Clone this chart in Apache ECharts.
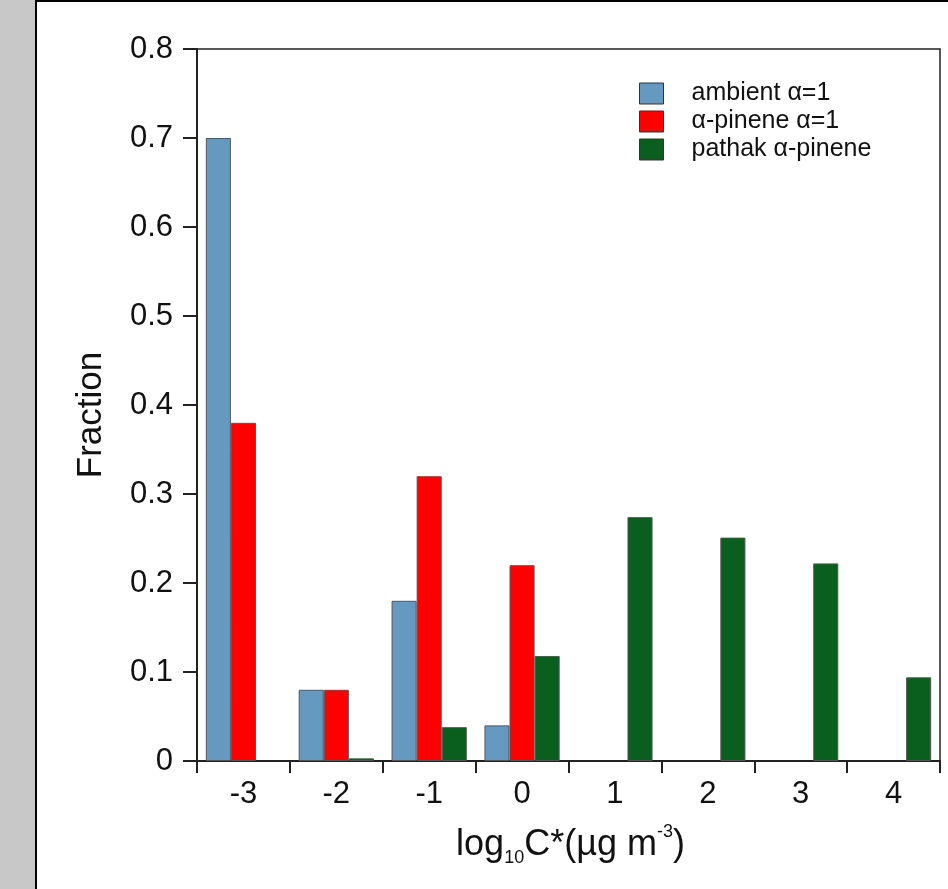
<!DOCTYPE html>
<html>
<head>
<meta charset="utf-8">
<script src="https://cdn.jsdelivr.net/npm/echarts@6/dist/echarts.min.js"></script>
<style>
html, body { margin: 0; padding: 0; background: #fff; }
#chart { width: 948px; height: 889px; }
</style>
</head>
<body>
<div id="chart"></div>
<script>
var categories = ['-3', '-2', '-1', '0', '1', '2', '3', '4'];
var ambient = [0.70, 0.08, 0.18, 0.04, 0, 0, 0, 0];
var pinene = [0.38, 0.08, 0.32, 0.22, 0, 0, 0, 0];
var pathak = [0, 0.003, 0.038, 0.118, 0.274, 0.251, 0.222, 0.094];
var seriesNames = ['ambient α=1', 'α-pinene α=1', 'pathak α-pinene'];
var seriesColors = ['#6699bf', '#ff0000', '#0a5e1e'];

var chart = echarts.init(document.getElementById('chart'));
var font = 'Liberation Sans, Arial, sans-serif';

// empty bins are left out so no border is drawn on the baseline
function barSeries(i, data) {
	return {
		name: seriesNames[i],
		type: 'bar',
		data: data.map(function (v) { return v === 0 ? '-' : v; }),
		barGap: '0%',
		barCategoryGap: '19%',
		itemStyle: { color: seriesColors[i], borderColor: '#555', borderWidth: 1 },
		emphasis: { disabled: true }
	};
}

var option = {
	animation: false,
	backgroundColor: '#fff',
	textStyle: { fontFamily: font },
	graphic: [
		{ type: 'rect', shape: { x: 0, y: 0, width: 35, height: 889 }, style: { fill: '#c8c8c8' }, silent: true },
		{ type: 'line', shape: { x1: 36, y1: 0, x2: 36, y2: 889 }, style: { stroke: '#000', lineWidth: 2 }, silent: true },
		{ type: 'line', shape: { x1: 36, y1: 1, x2: 948, y2: 1 }, style: { stroke: '#000', lineWidth: 2 }, silent: true }
	],
	grid: {
		left: 197, top: 49, right: 8, bottom: 128,
		show: true, borderColor: '#222', borderWidth: 1.5
	},
	legend: {
		orient: 'vertical',
		left: 634, top: 76,
		itemWidth: 24, itemHeight: 21, itemGap: 3,
		icon: 'rect',
		textStyle: { fontSize: 25, color: '#111', fontFamily: font, padding: [0, 0, 0, 23] },
		itemStyle: { borderColor: '#333', borderWidth: 1 },
		data: seriesNames
	},
	xAxis: {
		type: 'category',
		data: categories,
		axisLine: { lineStyle: { color: '#222', width: 2 } },
		axisTick: { show: true, length: 12, lineStyle: { color: '#222', width: 2 } },
		axisLabel: { fontSize: 31, color: '#111', margin: 18, fontFamily: font },
		name: '{a|log}{s|10}{a|C*(µg m}{p|-3}{a|)}',
		nameLocation: 'middle',
		nameGap: 62,
		nameTextStyle: {
			color: '#111',
			padding: [0, 0, 0, 4],
			rich: {
				a: { fontSize: 36, fontFamily: font, color: '#111', lineHeight: 44 },
				s: { fontSize: 18, fontFamily: font, color: '#111', lineHeight: 14, verticalAlign: 'bottom' },
				p: { fontSize: 18, fontFamily: font, color: '#111', lineHeight: 26, verticalAlign: 'top' }
			}
		}
	},
	yAxis: {
		type: 'value',
		min: 0, max: 0.8, interval: 0.1,
		splitLine: { show: false },
		axisLine: { show: true, lineStyle: { color: '#222', width: 2 } },
		axisTick: { show: true, length: 14, lineStyle: { color: '#222', width: 2 } },
		axisLabel: { fontSize: 31, color: '#111', margin: 24, fontFamily: font },
		name: 'Fraction',
		nameLocation: 'middle',
		nameRotate: 90,
		nameGap: 88,
		nameTextStyle: { fontSize: 35, color: '#111', fontFamily: font, padding: [0, 20, 0, 0] }
	},
	series: [
		barSeries(0, ambient),
		barSeries(1, pinene),
		barSeries(2, pathak)
	]
};
chart.setOption(option);
</script>
</body>
</html>
